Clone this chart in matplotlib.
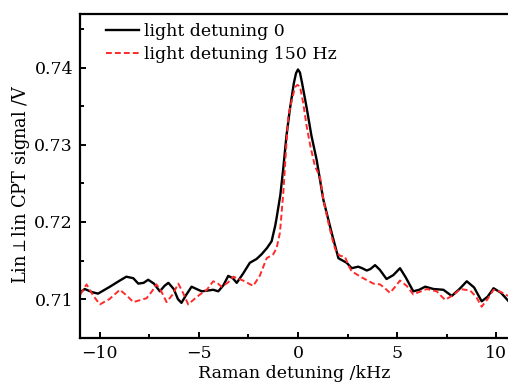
import numpy as np
import matplotlib
matplotlib.use("Agg")
import matplotlib.pyplot as plt
from matplotlib.ticker import MultipleLocator, FormatStrFormatter

# ── Datos ────────────────────────────────────────────────────────────────────
det0_x = [-10.98, -10.76, -10.40, -10.09, -9.49, -8.99, -8.66, -8.31, -8.06, -7.79,
          -7.56, -7.27, -6.97, -6.74, -6.54, -6.27, -6.06, -5.88, -5.65, -5.37,
          -5.12, -4.86, -4.55, -4.28, -4.02, -3.76, -3.52, -3.29, -3.09, -2.77,
          -2.43, -2.09, -1.84, -1.57, -1.33, -1.15, -1.08, -0.89, -0.74, -0.58,
          -0.41, -0.21, -0.10, 0.00, 0.10, 0.21, 0.44, 0.68, 0.94, 1.28, 1.70, 2.04,
          2.46, 2.71, 3.04, 3.24, 3.47, 3.66, 3.89, 4.13, 4.47, 4.81,
          5.15, 5.44, 5.82, 6.12, 6.42, 6.84, 7.34, 7.76, 8.15, 8.52,
          8.89, 9.27, 9.57, 9.87, 10.25, 10.60]
det0_y = [0.7109, 0.7113, 0.7109, 0.7107, 0.7116, 0.7124, 0.7129, 0.7127, 0.7120, 0.7121,
          0.7125, 0.7120, 0.7110, 0.7117, 0.7121, 0.7113, 0.7100, 0.7095, 0.7105, 0.7116,
          0.7113, 0.7110, 0.7111, 0.7112, 0.7110, 0.7118, 0.7130, 0.7127, 0.7121, 0.7133,
          0.7147, 0.7152, 0.7158, 0.7166, 0.7175, 0.7195, 0.7205, 0.7235, 0.7270, 0.7312,
          0.7346, 0.7380, 0.7393, 0.7398, 0.7394, 0.7380, 0.7348, 0.7312, 0.7281, 0.7229, 0.7186, 0.7153,
          0.7147, 0.7140, 0.7142, 0.7140, 0.7137, 0.7139, 0.7144, 0.7138, 0.7126, 0.7131,
          0.7140, 0.7128, 0.7110, 0.7112, 0.7116, 0.7113, 0.7112, 0.7104, 0.7113, 0.7123,
          0.7115, 0.7097, 0.7103, 0.7114, 0.7108, 0.7098]

det150_x = [-10.98, -10.67, -10.35, -10.00, -9.51, -8.99, -8.62, -8.31, -7.64, -7.37,
            -7.14, -6.90, -6.63, -6.32, -6.04, -5.80, -5.54, -5.23, -4.94, -4.60,
            -4.28, -4.08, -3.86, -3.55, -3.26, -2.77, -2.26, -1.93, -1.58, -1.25,
            -1.08, -0.91, -0.74, -0.58, -0.49, -0.31, -0.15, -0.03, 0.10, 0.26,
            0.44, 0.63, 0.86, 1.11, 1.28, 1.57, 1.79, 1.95, 2.14, 2.37,
            2.56, 2.71, 3.22, 3.81, 4.14, 4.39, 4.64, 4.91, 5.15, 5.49,
            5.82, 6.50, 7.00, 7.42, 7.84, 8.19, 8.69, 8.99, 9.27, 9.57,
            9.87, 10.25, 10.60]
det150_y = [0.7106, 0.7119, 0.7105, 0.7093, 0.7100, 0.7112, 0.7104, 0.7096, 0.7101, 0.7110,
            0.7119, 0.7110, 0.7096, 0.7106, 0.7120, 0.7108, 0.7093, 0.7100, 0.7106, 0.7112,
            0.7123, 0.7121, 0.7116, 0.7121, 0.7129, 0.7124, 0.7117, 0.7130, 0.7153, 0.7158,
            0.7166, 0.7186, 0.7238, 0.7303, 0.7337, 0.7358, 0.7375, 0.7378, 0.7376, 0.7355,
            0.7324, 0.7298, 0.7272, 0.7259, 0.7229, 0.7195, 0.7172, 0.7160, 0.7156, 0.7155,
            0.7143, 0.7136, 0.7128, 0.7120, 0.7119, 0.7114, 0.7108, 0.7116, 0.7124, 0.7117,
            0.7106, 0.7113, 0.7110, 0.7099, 0.7105, 0.7113, 0.7111, 0.7103, 0.7090, 0.7100,
            0.7112, 0.7109, 0.7104]

plt.rcParams.update({
    "font.family": "DejaVu Serif",
    "font.size": 12,
    "mathtext.fontset": "dejavuserif",
})

fig = plt.figure(figsize=(5.08, 3.83), dpi=100)
ax = fig.add_axes([0.1575, 0.1167, 0.8425, 0.8467])

ax.plot(det0_x, det0_y, color="black", lw=1.7, label="light detuning 0")
ax.plot(det150_x, det150_y, color="#ff2a2a", lw=1.4, ls=(0, (3, 1.6)),
        label="light detuning 150 Hz")

ax.set_xlim(-11.0, 10.6)
ax.set_ylim(0.7049, 0.7470)
ax.xaxis.set_major_locator(MultipleLocator(5))
ax.xaxis.set_minor_locator(MultipleLocator(2.5))
ax.yaxis.set_major_locator(MultipleLocator(0.01))
ax.yaxis.set_minor_locator(MultipleLocator(0.005))
ax.yaxis.set_major_formatter(FormatStrFormatter("%.2f"))

for s in ["left", "bottom", "top"]:
    ax.spines[s].set_linewidth(1.6)
ax.spines["right"].set_visible(False)
ax.tick_params(which="both", direction="in", top=False, right=False,
               width=1.4, labelsize=12.5)
ax.tick_params(which="major", length=4.5, pad=5)
ax.tick_params(which="minor", length=3)

ax.set_xlabel("Raman detuning /kHz", fontsize=12.5, labelpad=2)
ax.set_ylabel("Lin$\\perp$lin CPT signal /V", fontsize=12.8)
ax.yaxis.set_label_coords(-0.112, 0.475)

ax.legend(loc="upper left", frameon=False, fontsize=12.5, handlelength=1.9,
          handletextpad=0.3, labelspacing=0.35, borderaxespad=0.1,
          bbox_to_anchor=(0.04, 1.0))

fig.savefig("out.png", dpi=100)
